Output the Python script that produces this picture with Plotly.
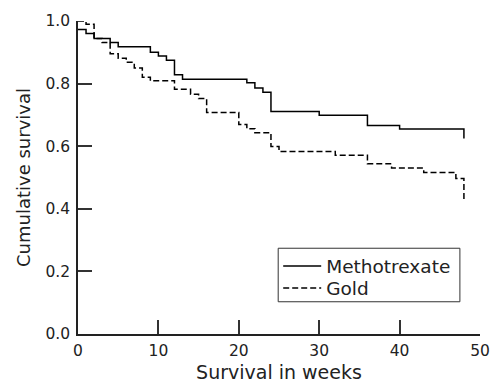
import plotly.graph_objects as go

# Kaplan-Meier step data (weeks, cumulative survival)
mtx_weeks = [0, 1, 2, 4, 5, 9, 10, 11, 12, 13, 21, 22, 23, 24, 30, 36, 40, 48]
mtx_surv = [0.973, 0.960, 0.944, 0.931, 0.918, 0.900, 0.888, 0.875, 0.828, 0.814,
            0.803, 0.786, 0.772, 0.711, 0.699, 0.666, 0.655, 0.625]

gold_weeks = [0, 1, 2, 3, 4, 5, 6, 7, 8, 9, 12, 14, 15, 16, 20, 21, 22, 24, 25,
              32, 36, 39, 43, 47, 48]
gold_surv = [1.0, 0.990, 0.944, 0.931, 0.895, 0.881, 0.868, 0.850, 0.820, 0.809,
             0.782, 0.766, 0.752, 0.708, 0.669, 0.656, 0.643, 0.599, 0.583,
             0.571, 0.544, 0.530, 0.516, 0.497, 0.428]

x_ticks = [0, 10, 20, 30, 40, 50]
y_ticks = [0.0, 0.2, 0.4, 0.6, 0.8, 1.0]
y_tick_labels = ["0.0", "0.2", "0.4", "0.6", "0.8", "1.0"]

fig = go.Figure()
fig.add_trace(go.Scatter(x=mtx_weeks, y=mtx_surv, mode="lines", name="Methotrexate",
                         legend="legend",
                         line=dict(color="black", width=1.5, shape="hv")))
fig.add_trace(go.Scatter(x=gold_weeks, y=gold_surv, mode="lines", name="Gold",
                         legend="legend2",
                         line=dict(color="black", width=1.5, shape="hv", dash="6px,3px")))

font = "DejaVu Sans, Liberation Sans, Arial, sans-serif"
legend_common = dict(xanchor="left", yanchor="middle", borderwidth=0,
                     bgcolor="rgba(0,0,0,0)",
                     font=dict(size=18.5, family=font, color="#222"), itemwidth=38)

fig.update_layout(
    width=491, height=383,
    margin=dict(l=78, r=11, t=21, b=49),
    paper_bgcolor="white", plot_bgcolor="white",
    font=dict(family=font, size=15.5, color="#222"),
    showlegend=True,
    legend=dict(x=0.498, y=0.2157, **legend_common),
    legend2=dict(x=0.498, y=0.1454, **legend_common),
    shapes=[dict(type="rect", xref="paper", yref="paper",
                 x0=0.498, x1=0.950, y0=0.103, y1=0.274,
                 line=dict(color="#333", width=1), fillcolor="white", layer="below")],
    xaxis=dict(range=[0, 50], tickvals=x_ticks, ticks="inside", ticklen=14,
               tickwidth=1.5, tickcolor="#333", showline=True, linecolor="#222",
               linewidth=1.5, showgrid=False, zeroline=False, automargin=False,
               ticklabelstandoff=2,
               title=dict(text="Survival in weeks", font=dict(size=19), standoff=9),
               tickfont=dict(size=15.5)),
    yaxis=dict(range=[0, 1.0], tickvals=y_ticks, ticktext=y_tick_labels,
               ticks="inside", ticklen=14, tickwidth=1.5, tickcolor="#333",
               showline=True, linecolor="#222", linewidth=1.5, showgrid=False,
               zeroline=False, automargin=False, ticklabelstandoff=3,
               title=dict(text="Cumulative survival", font=dict(size=18), standoff=10),
               tickfont=dict(size=15.5)),
)

fig.write_html(
    "out.html",
    config={"displayModeBar": False},
    post_script="document.body.style.margin='0';document.body.style.overflow='hidden';",
)
